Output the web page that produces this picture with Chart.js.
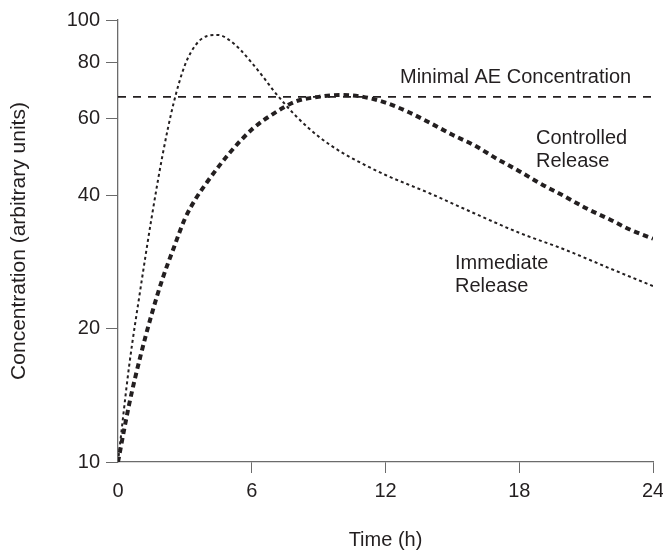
<!DOCTYPE html>
<html>
<head>
<meta charset="utf-8">
<script src="https://cdn.jsdelivr.net/npm/chart.js@4.4.1/dist/chart.umd.min.js"></script>
<style>
  html, body { margin: 0; padding: 0; background: #fff; }
  #wrap { width: 663px; height: 552px; }
</style>
</head>
<body>
<div id="wrap"><canvas id="pkChart"></canvas></div>
<script>
// values (time in h, concentration in arbitrary units)
const irTime = [0, 0.5, 1, 1.5, 2, 2.5, 3, 3.5, 4, 4.5, 5, 5.5, 6, 6.5, 7, 8, 9, 10, 11, 12, 14, 16, 18, 20, 22, 24];
const irConc = [10, 16.5, 24.5, 35.5, 49.5, 65, 79, 88, 92, 92.5, 90, 85.5, 80, 74.5, 69, 60.5, 54.5, 50.3, 47.2, 44.6, 40.5, 36.5, 33, 30.3, 27.5, 25];

const crTime = [0, 0.5, 1, 1.5, 2, 2.5, 3, 3.5, 4, 4.5, 5, 6, 7, 8, 9, 10, 11, 12, 13, 14, 15, 16, 17, 18, 19, 20, 21, 22, 23, 24];
const crConc = [10, 13.5, 17.3, 21.5, 26, 30.5, 35.5, 39.5, 43, 46.5, 50, 56.5, 61.5, 65.5, 67, 67.7, 67, 65, 62, 58.5, 55, 52, 48.5, 45.5, 42.5, 40, 37.5, 35.5, 33.5, 32];

const aeLevel = 67;
const xTicks = [0, 6, 12, 18, 24];
const yTicks = [10, 20, 40, 60, 80, 100];

const ink = '#231f20';
const axisGrey = '#6b6b6b';
const font = '"Liberation Sans", Arial, Helvetica, sans-serif';

const toPoints = (xs, ys) => xs.map((x, i) => ({ x: x, y: ys[i] }));

// text notes on the plot
const notes = {
    id: 'notes',
    afterDatasetsDraw(chart) {
        const c = chart.ctx;
        c.save();
        c.font = '20px ' + font;
        c.fillStyle = ink;
        c.textAlign = 'left';
        c.textBaseline = 'alphabetic';
        c.fillText('Minimal AE Concentration', 400, 83);
        c.fillText('Controlled', 536, 144);
        c.fillText('Release', 536, 167);
        c.fillText('Immediate', 455, 269);
        c.fillText('Release', 455, 292);
        c.restore();
    }
};

const ctx = document.getElementById('pkChart').getContext('2d');
new Chart(ctx, {
    type: 'line',
    data: {
        datasets: [
            {
                label: 'Minimal AE Concentration',
                data: [{ x: 0, y: aeLevel }, { x: 24, y: aeLevel }],
                borderColor: ink,
                borderWidth: 1.6,
                borderDash: [8, 7]
            },
            {
                label: 'Immediate Release',
                data: toPoints(irTime, irConc),
                borderColor: ink,
                borderWidth: 2,
                borderDash: [3, 3],
                cubicInterpolationMode: 'monotone'
            },
            {
                label: 'Controlled Release',
                data: toPoints(crTime, crConc),
                borderColor: ink,
                borderWidth: 4,
                borderDash: [5.5, 4],
                cubicInterpolationMode: 'monotone'
            }
        ]
    },
    options: {
        responsive: true,
        maintainAspectRatio: false,
        animation: false,
        layout: { padding: { top: 20, right: 10, left: 0, bottom: 0 } },
        elements: { point: { radius: 0 } },
        plugins: {
            legend: { display: false },
            tooltip: { enabled: false }
        },
        scales: {
            x: {
                type: 'linear',
                min: 0,
                max: 24,
                afterBuildTicks: s => { s.ticks = xTicks.map(v => ({ value: v })); },
                afterFit: s => { s.height = 90; s.paddingLeft = 0; s.paddingRight = 0; },
                ticks: { color: ink, font: { size: 20, family: font }, padding: 6, autoSkip: false, maxRotation: 0 },
                grid: {
                    drawOnChartArea: false,
                    tickLength: 11,
                    color: c => (c.tick && c.tick.value === 0 ? 'rgba(0,0,0,0)' : axisGrey)
                },
                border: { color: axisGrey, width: 1.3 },
                title: {
                    display: true,
                    text: 'Time (h)',
                    color: ink,
                    font: { size: 20, family: font },
                    padding: { top: 0, bottom: 0 }
                }
            },
            y: {
                type: 'logarithmic',
                min: 10,
                max: 100,
                afterBuildTicks: s => { s.ticks = yTicks.map(v => ({ value: v })); },
                afterFit: s => { s.width = 118; s.paddingTop = 0; s.paddingBottom = 0; },
                ticks: {
                    color: ink,
                    font: { size: 20, family: font },
                    padding: 6,
                    autoSkip: false,
                    callback: v => String(v)
                },
                grid: { drawOnChartArea: false, tickLength: 12, color: axisGrey },
                border: { color: axisGrey, width: 1.3 },
                title: {
                    display: true,
                    text: 'Concentration (arbitrary units)',
                    color: ink,
                    font: { size: 21, family: font },
                    padding: { top: 7, bottom: 0 }
                }
            }
        }
    },
    plugins: [notes]
});
</script>
</body>
</html>
